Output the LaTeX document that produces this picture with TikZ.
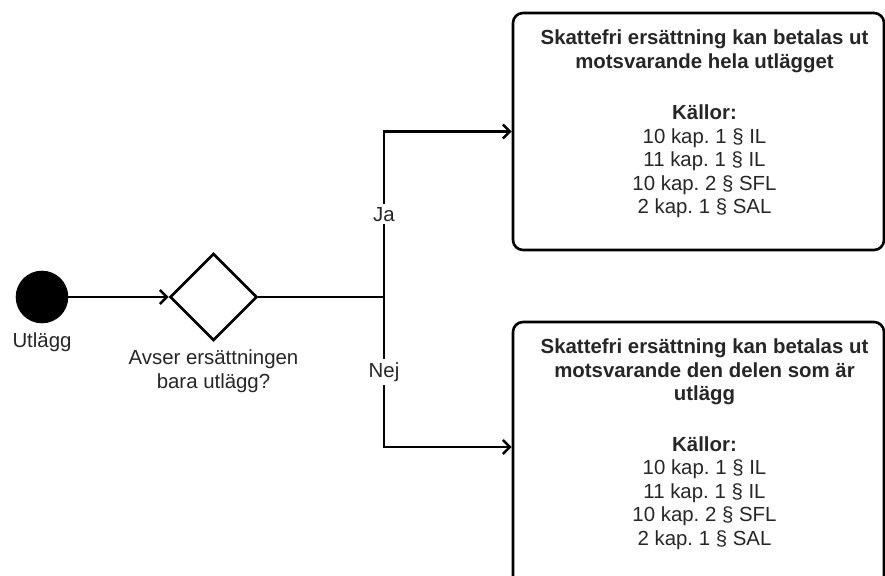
\documentclass[tikz,border=0pt]{standalone}
\usepackage{fontspec}
\setmainfont{Liberation Sans}
\usetikzlibrary{shapes,arrows.meta,positioning}
\frenchspacing

\begin{document}
\begin{tikzpicture}[x=1pt,y=-1pt,line width=2.6pt,
	start/.style={circle,draw,fill=black,minimum size=50pt,inner sep=0pt},
	choice/.style={diamond,draw,fill=white,minimum width=87pt,minimum height=87pt,inner sep=0pt},
	outcome/.style={rectangle,draw,rounded corners=10pt,minimum width=371pt},
	txt/.style={font=\fontsize{20.4}{23.5}\selectfont,text=black!85,align=center,inner sep=0pt},
	yesno/.style={txt,fill=white,inner sep=3pt},
	arr/.style={-{Straight Barb[length=7pt,width=14pt]}}]
	\useasboundingbox (0,0) rectangle (885,575);

	\node[start] at (42,297) (start) {};
	\node[txt,below=8pt of start] (startlbl) {Utlägg};

	\node[choice] at (213.5,297) (q) {};
	\node[txt,below=7pt of q] (qlbl) {Avser ersättningen\\bara utlägg?};

	\node[outcome,minimum height=237pt] at (698.5,131.5) (yes) {};
	\node[txt,below=17pt of yes.north,xshift=6pt] (yestxt) {\textbf{Skattefri ersättning kan betalas ut}\\
		\textbf{motsvarande hela utlägget}\\[28pt]
		\textbf{Källor:}\\
		10 kap. 1 § IL\\
		11 kap. 1 § IL\\
		10 kap. 2 § SFL\\
		2 kap. 1 § SAL};

	\node[outcome,minimum height=268pt] at (698.5,456) (no) {};
	\node[txt,below=17pt of no.north,xshift=6pt] (notxt) {\textbf{Skattefri ersättning kan betalas ut}\\
		\textbf{motsvarande den delen som är}\\
		\textbf{utlägg}\\[27pt]
		\textbf{Källor:}\\
		10 kap. 1 § IL\\
		11 kap. 1 § IL\\
		10 kap. 2 § SFL\\
		2 kap. 1 § SAL};

	\coordinate (j) at (384,297);
	\draw[arr] (start) -- (q);
	\draw (q) -- (j);
	\draw[arr] (j) |- (yes.west) node[yesno,pos=0.25] (ja) {Ja};
	\draw[arr] (j) |- ([yshift=9pt]no.west) node[yesno,pos=0.25] (nej) {Nej};
\end{tikzpicture}
\end{document}
